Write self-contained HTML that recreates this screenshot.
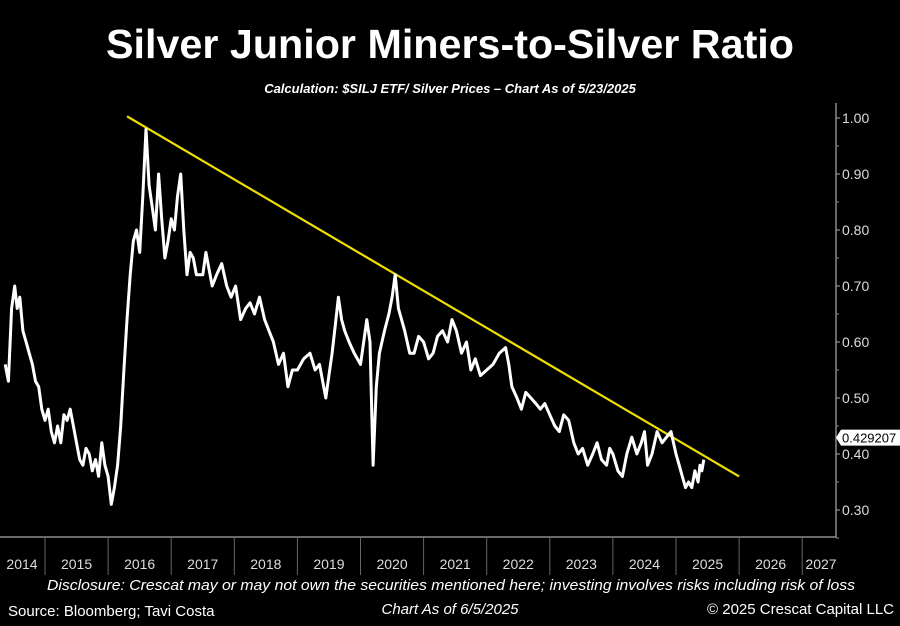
<!DOCTYPE html>
<html><head><meta charset="utf-8"><style>
body{margin:0;background:#000;width:900px;height:626px;overflow:hidden;font-family:"Liberation Sans",sans-serif;color:#fff}
</style></head><body>
<svg width="900" height="626" style="position:absolute;left:0;top:0">
<text x="450" y="58" text-anchor="middle" font-size="41" font-weight="bold" fill="#fff" textLength="688" lengthAdjust="spacingAndGlyphs">Silver Junior Miners-to-Silver Ratio</text>
<text x="450" y="93" text-anchor="middle" font-size="13" font-weight="bold" font-style="italic" fill="#fff">Calculation: $SILJ ETF/ Silver Prices – Chart As of 5/23/2025</text>
<g id="axes"></g>
<g id="plot"></g>
<text x="451" y="590" text-anchor="middle" font-size="15" font-style="italic" fill="#fff" textLength="808" lengthAdjust="spacingAndGlyphs">Disclosure: Crescat may or may not own the securities mentioned here; investing involves risks including risk of loss</text>
<text x="8" y="616" font-size="15" fill="#fff">Source: Bloomberg; Tavi Costa</text>
<text x="450" y="614" text-anchor="middle" font-size="15" font-style="italic" fill="#fff">Chart As of 6/5/2025</text>
<text x="894" y="614" text-anchor="end" font-size="15" fill="#fff">© 2025 Crescat Capital LLC</text>
</svg>
<script>
const yTicks=[1.0,0.9,0.8,0.7,0.6,0.5,0.4,0.3];
const years=[2014,2015,2016,2017,2018,2019,2020,2021,2022,2023,2024,2025,2026,2027];
const times=[2014.37,2014.42,2014.47,2014.52,2014.56,2014.6,2014.65,2014.7,2014.75,2014.8,2014.85,2014.9,2014.95,2015.0,2015.05,2015.1,2015.15,2015.2,2015.25,2015.3,2015.35,2015.4,2015.45,2015.5,2015.55,2015.6,2015.65,2015.7,2015.75,2015.8,2015.85,2015.9,2015.95,2016.0,2016.05,2016.1,2016.15,2016.2,2016.25,2016.3,2016.35,2016.4,2016.45,2016.5,2016.55,2016.6,2016.65,2016.7,2016.75,2016.8,2016.85,2016.9,2016.95,2017.0,2017.05,2017.1,2017.15,2017.2,2017.25,2017.3,2017.35,2017.4,2017.5,2017.55,2017.65,2017.72,2017.8,2017.88,2017.95,2018.02,2018.1,2018.18,2018.25,2018.32,2018.4,2018.48,2018.55,2018.62,2018.7,2018.78,2018.85,2018.92,2019.0,2019.1,2019.2,2019.28,2019.35,2019.45,2019.5,2019.55,2019.6,2019.65,2019.7,2019.75,2019.82,2019.9,2020.0,2020.05,2020.1,2020.15,2020.2,2020.25,2020.3,2020.38,2020.45,2020.5,2020.55,2020.6,2020.7,2020.78,2020.85,2020.92,2021.0,2021.08,2021.15,2021.22,2021.3,2021.38,2021.45,2021.52,2021.6,2021.68,2021.75,2021.82,2021.9,2022.0,2022.1,2022.2,2022.3,2022.35,2022.4,2022.48,2022.55,2022.62,2022.7,2022.78,2022.85,2022.92,2023.0,2023.08,2023.15,2023.22,2023.3,2023.38,2023.45,2023.52,2023.6,2023.68,2023.75,2023.82,2023.9,2023.95,2024.0,2024.08,2024.15,2024.22,2024.3,2024.38,2024.45,2024.5,2024.55,2024.62,2024.7,2024.78,2024.85,2024.92,2025.0,2025.05,2025.1,2025.15,2025.2,2025.25,2025.3,2025.35,2025.38,2025.41,2025.44];
const ratio=[0.56,0.53,0.66,0.70,0.66,0.68,0.62,0.60,0.58,0.56,0.53,0.52,0.48,0.46,0.48,0.44,0.42,0.45,0.42,0.47,0.46,0.48,0.45,0.42,0.39,0.38,0.41,0.40,0.37,0.39,0.36,0.42,0.38,0.36,0.31,0.34,0.38,0.45,0.55,0.64,0.72,0.78,0.80,0.76,0.86,0.98,0.88,0.84,0.80,0.90,0.82,0.75,0.78,0.82,0.80,0.86,0.90,0.80,0.72,0.76,0.75,0.72,0.72,0.76,0.70,0.72,0.74,0.70,0.68,0.70,0.64,0.66,0.67,0.65,0.68,0.64,0.62,0.60,0.56,0.58,0.52,0.55,0.55,0.57,0.58,0.55,0.56,0.50,0.54,0.58,0.63,0.68,0.64,0.62,0.60,0.58,0.56,0.60,0.64,0.60,0.38,0.52,0.58,0.62,0.65,0.68,0.72,0.66,0.62,0.58,0.58,0.61,0.60,0.57,0.58,0.61,0.62,0.60,0.64,0.62,0.58,0.60,0.55,0.57,0.54,0.55,0.56,0.58,0.59,0.56,0.52,0.50,0.48,0.51,0.50,0.49,0.48,0.49,0.47,0.45,0.44,0.47,0.46,0.42,0.40,0.41,0.38,0.40,0.42,0.39,0.38,0.41,0.40,0.37,0.36,0.40,0.43,0.40,0.42,0.44,0.38,0.40,0.44,0.42,0.43,0.44,0.40,0.38,0.36,0.34,0.35,0.34,0.37,0.35,0.38,0.37,0.39,0.43];
const trendT=[2016.3,2026.0];
const trendV=[1.003,0.36];
const lastLabel="0.429207";
const NS="http://www.w3.org/2000/svg";
const X=t=>45+(t-2015)*63.1;
const Y=v=>118+(1-v)*560;
function mk(tag,attrs,parent,text){const e=document.createElementNS(NS,tag);for(const k in attrs)e.setAttribute(k,attrs[k]);if(text!==undefined)e.textContent=text;parent.appendChild(e);return e;}
const ax=document.getElementById('axes'),pl=document.getElementById('plot');
const axLine=mk('path',{d:'M0 537H836V103',stroke:'#aaa','stroke-width':1.2,fill:'none'},ax);


yTicks.forEach(v=>{
 const t=mk('line',{x1:836,x2:840,y1:Y(v),y2:Y(v),stroke:'#aaa'},ax);
 
 
 const m=mk('line',{x1:836,x2:839,y1:Y(v-0.05),y2:Y(v-0.05),stroke:'#888'},ax);
 
 
 const l=mk('text',{x:842,y:Y(v)+5,'font-size':14,fill:'#ddd'},ax,v.toFixed(2));
 
 
});
years.forEach(yr=>{
 if(yr<2027){const s=mk('line',{x1:X(yr+1),x2:X(yr+1),y1:537,y2:575,stroke:'#666'},ax);
 
 }
 const cx=yr===2014?22:(yr===2027?821:X(yr+0.5));
 const l=mk('text',{x:cx,y:569,'font-size':14,fill:'#ddd','text-anchor':'middle'},ax,String(yr));
 
 
});
const tr=mk('line',{x1:X(trendT[0]),y1:Y(trendV[0]),x2:X(trendT[1]),y2:Y(trendV[1]),stroke:'#f0e000','stroke-width':2.2},pl);


const d=times.map((t,i)=>(i?'L':'M')+X(t).toFixed(1)+' '+Y(ratio[i]).toFixed(1)).join('');
const ln=mk('path',{d:d,stroke:'#fff','stroke-width':3,fill:'none','stroke-linejoin':'round'},pl);


const ly=Y(parseFloat(lastLabel));
const bx=mk('path',{d:`M836 ${ly} l5 -8 h60 v16 h-60z`,fill:'#fff'},ax);


const bt=mk('text',{x:842,y:ly+5,'font-size':13,fill:'#000'},ax,lastLabel);


</script>
</body></html>
